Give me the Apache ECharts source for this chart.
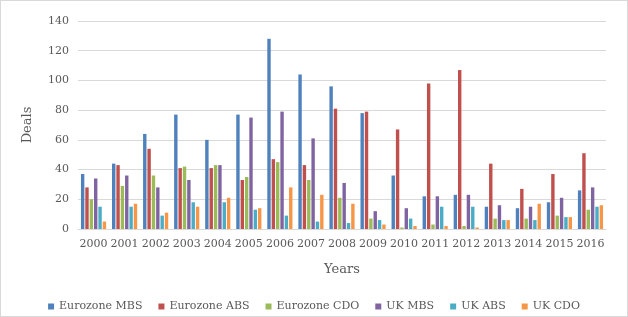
<!DOCTYPE html>
<html>
<head>
<meta charset="utf-8">
<script src="https://cdn.jsdelivr.net/npm/echarts@6/dist/echarts.min.js"></script>
<style>
  html, body { margin: 0; padding: 0; background: #fff; }
  #chart { width: 626px; height: 315px; border: 1px solid #d9d9d9; }
</style>
</head>
<body>
<div id="chart"></div>
<script>
const years = ['2000', '2001', '2002', '2003', '2004', '2005', '2006', '2007', '2008',
  '2009', '2010', '2011', '2012', '2013', '2014', '2015', '2016'];

const eurozoneMBS = [37, 44, 64, 77, 60, 77, 128, 104, 96, 78, 36, 22, 23, 15, 14, 18, 26];
const eurozoneABS = [28, 43, 54, 41, 41, 33, 47, 43, 81, 79, 67, 98, 107, 44, 27, 37, 51];
const eurozoneCDO = [20, 29, 36, 42, 43, 35, 45, 33, 21, 7, 1, 3, 2, 7, 7, 9, 13];
const ukMBS = [34, 36, 28, 33, 43, 75, 79, 61, 31, 12, 14, 22, 23, 16, 15, 21, 28];
const ukABS = [15, 15, 9, 18, 18, 13, 9, 5, 4, 6, 7, 15, 15, 6, 6, 8, 15];
const ukCDO = [5, 17, 11, 15, 21, 14, 28, 23, 17, 3, 2, 2, 1, 6, 17, 8, 16];

const seriesNames = ['Eurozone MBS', 'Eurozone ABS', 'Eurozone CDO', 'UK MBS', 'UK ABS', 'UK CDO'];
const seriesData = [eurozoneMBS, eurozoneABS, eurozoneCDO, ukMBS, ukABS, ukCDO];
const colors = ['#4F81BD', '#C0504D', '#9BBB59', '#8064A2', '#4BACC6', '#F79646'];

const font = 'DejaVu Serif';
const textColor = '#595959';

const myChart = echarts.init(document.getElementById('chart'));

const option = {
  animation: false,
  color: colors,
  textStyle: { fontFamily: font },
  grid: { left: 77, right: 21, top: 20, bottom: 87 },
  legend: {
    top: 295,
    left: 'center',
    itemWidth: 6,
    itemHeight: 6,
    itemGap: 16,
    icon: 'rect',
    textStyle: { fontFamily: font, fontSize: 11, color: textColor },
    data: seriesNames
  },
  xAxis: {
    type: 'category',
    data: years,
    name: 'Years',
    nameLocation: 'middle',
    nameGap: 34,
    nameTextStyle: { fontFamily: font, fontSize: 13, color: textColor },
    axisLine: { lineStyle: { color: '#d9d9d9' } },
    axisTick: { show: false },
    axisLabel: { fontFamily: font, fontSize: 11, color: textColor, margin: 10, interval: 0 }
  },
  yAxis: {
    type: 'value',
    min: 0,
    max: 140,
    interval: 20,
    name: 'Deals',
    nameLocation: 'middle',
    nameGap: 44,
    nameTextStyle: { fontFamily: font, fontSize: 13, color: textColor },
    axisLine: { show: false },
    axisTick: { show: false },
    axisLabel: { fontFamily: font, fontSize: 11, color: textColor, margin: 9 },
    splitLine: { lineStyle: { color: '#d9d9d9' } }
  },
  series: seriesNames.map((name, i) => ({
    name,
    type: 'bar',
    data: seriesData[i],
    barWidth: 3.4,
    barGap: '28%'
  }))
};

myChart.setOption(option, true);
</script>
</body>
</html>
